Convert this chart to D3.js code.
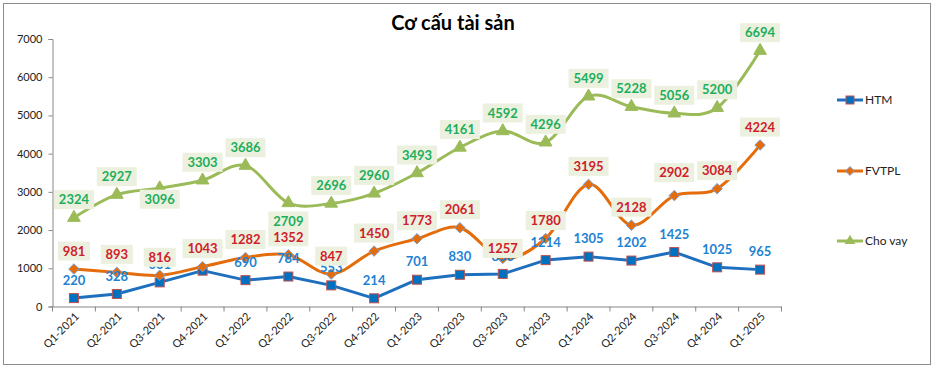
<!DOCTYPE html>
<html>
<head>
<meta charset="utf-8">
<script src="https://cdn.jsdelivr.net/npm/d3@7"></script>
<style>
  html, body { margin: 0; padding: 0; background: #fff; }
  svg { display: block; font-family: Lato, "Open Sans", "DejaVu Sans", sans-serif; }
</style>
</head>
<body>
<svg id="chart" width="936" height="369"></svg>
<script>
const categories = ["Q1-2021","Q2-2021","Q3-2021","Q4-2021","Q1-2022","Q2-2022","Q3-2022","Q4-2022",
  "Q1-2023","Q2-2023","Q3-2023","Q4-2023","Q1-2024","Q2-2024","Q3-2024","Q4-2024","Q1-2025"];
const htm    = [220, 328, 631, 938, 690, 784, 553, 214, 701, 830, 853, 1214, 1305, 1202, 1425, 1025, 965];
const fvtpl  = [981, 893, 816, 1043, 1282, 1352, 847, 1450, 1773, 2061, 1257, 1780, 3195, 2128, 2902, 3084, 4224];
const choVay = [2324, 2927, 3096, 3303, 3686, 2709, 2696, 2960, 3493, 4161, 4592, 4296, 5499, 5228, 5056, 5200, 6694];
const yTicks = [0, 1000, 2000, 3000, 4000, 5000, 6000, 7000];
const seriesNames = ["HTM", "FVTPL", "Cho vay"];

// label placement (layout only): vertical offset of each data label from its point
const htmLabelDy    = Array(17).fill(-18);
const fvtplLabelDy  = [-18,-18,-18,-18,-18,-18,-18,-18,-18,-18,-10,-18,-18,-18,-23,-18,-18];
const choVayLabelDy = [-18,-18,11,-18,-18,18,-18,-18,-18,-18,-18,-18,-18,-18,-18,-18,-18];

const svg = d3.select("#chart");

// border
svg.append("rect").attr("x", 3.5).attr("y", 3.5).attr("width", 927).attr("height", 361)
  .attr("fill", "#fff").attr("stroke", "#8c8c8c").attr("stroke-width", 1);

// title
svg.append("text").attr("x", 453).attr("y", 30).attr("text-anchor", "middle")
  .attr("font-size", 20).attr("font-weight", "bold").attr("fill", "#000").text("Cơ cấu tài sản");

const x = d3.scaleBand().domain(categories).range([52.5, 781.5]).paddingInner(0).paddingOuter(0);
const y = d3.scaleLinear().domain([0, 7000]).range([306.5, 39]);
const cx = c => x(c) + x.bandwidth() / 2;

// y axis
const yAxis = d3.axisLeft(y).tickValues(yTicks).tickSize(4).tickPadding(6).tickFormat(d3.format("d"));
const gy = svg.append("g").attr("transform", "translate(52.5,0)").call(yAxis);
gy.select(".domain").attr("stroke", "#868686");
gy.selectAll(".tick line").attr("stroke", "#868686");
gy.selectAll(".tick text").attr("font-size", 11).attr("fill", "#222").attr("font-family", "Lato, sans-serif");

// x axis
const xAxis = d3.axisBottom(x).tickSize(0).tickFormat(d => d);
const gx = svg.append("g").attr("transform", "translate(0,306.5)").call(xAxis);
gx.select(".domain").attr("stroke", "#868686");
const bounds = categories.map(c => x(c)).concat([x(categories[categories.length - 1]) + x.bandwidth()]);
gx.selectAll(".btick").data(bounds).enter().append("line")
  .attr("x1", d => d).attr("x2", d => d).attr("y1", 0).attr("y2", 5).attr("stroke", "#868686");
gx.selectAll(".tick text")
  .attr("font-size", 11).attr("fill", "#222").attr("font-family", "Lato, sans-serif")
  .attr("text-anchor", "end")
  .attr("transform", "translate(3,8) rotate(-45)")
  .attr("dy", "0.35em").attr("y", 0);

const colors = { htm: "#1F6FBF", fvtpl: "#E46C0A", cho: "#9BBB59" };

// lines
const lineStraight = d3.line().x((d, i) => cx(categories[i])).y(d => y(d));
const lineSmooth = d3.line().x((d, i) => cx(categories[i])).y(d => y(d)).curve(d3.curveCardinal.tension(0));

svg.append("path").datum(htm).attr("d", lineStraight).attr("fill", "none")
  .attr("stroke", colors.htm).attr("stroke-width", 3).attr("stroke-linejoin", "round");
svg.selectAll(".sq").data(htm).enter().append("rect")
  .attr("x", (d, i) => cx(categories[i]) - 4.5).attr("y", d => y(d) - 4.5)
  .attr("width", 9).attr("height", 9).attr("fill", "#0070C0").attr("stroke", "#C0504D").attr("stroke-width", 1);

svg.append("path").datum(fvtpl).attr("d", lineSmooth).attr("fill", "none")
  .attr("stroke", colors.fvtpl).attr("stroke-width", 3);
const diamond = d3.symbol().type(d3.symbolDiamond2).size(70);
svg.selectAll(".dm").data(fvtpl).enter().append("path")
  .attr("d", diamond).attr("transform", (d, i) => `translate(${cx(categories[i])},${y(d)})`)
  .attr("fill", colors.fvtpl).attr("stroke", "#7F9FCF").attr("stroke-width", 1);

svg.append("path").datum(choVay).attr("d", lineSmooth).attr("fill", "none")
  .attr("stroke", colors.cho).attr("stroke-width", 3);
const tri = d3.symbol().type(d3.symbolTriangle).size(70);
svg.selectAll(".tr").data(choVay).enter().append("path")
  .attr("d", tri).attr("transform", (d, i) => `translate(${cx(categories[i])},${y(d)})`)
  .attr("fill", colors.cho).attr("stroke", colors.cho).attr("stroke-width", 1);

// labels
function addLabels(data, color, boxed, dyArr) {
  const g = svg.append("g");
  data.forEach((v, i) => {
    const px = cx(categories[i]);
    const py = y(v) + dyArr[i];
    const txt = String(v);
    const w = txt.length * 8 + 8;
    if (boxed) {
      g.append("rect").attr("x", px - w / 2).attr("y", py - 9.5).attr("width", w).attr("height", 19)
        .attr("fill", "#EBF1DE");
    }
    g.append("text").attr("x", px).attr("y", py).attr("dy", "0.36em").attr("text-anchor", "middle")
      .attr("font-size", 13).attr("font-weight", "bold").attr("fill", color).text(txt);
  });
}
addLabels(htm, "#1E82D2", false, htmLabelDy);
addLabels(fvtpl, "#D0202A", true, fvtplLabelDy);
addLabels(choVay, "#1DAE5B", true, choVayLabelDy);

// legend
const legendItems = [
  { name: seriesNames[0], y: 100, color: colors.htm, marker: "sq" },
  { name: seriesNames[1], y: 171, color: colors.fvtpl, marker: "dm" },
  { name: seriesNames[2], y: 241, color: colors.cho, marker: "tr" }
];
legendItems.forEach(it => {
  svg.append("line").attr("x1", 837).attr("x2", 863).attr("y1", it.y).attr("y2", it.y)
    .attr("stroke", it.color).attr("stroke-width", 3);
  if (it.marker === "sq") {
    svg.append("rect").attr("x", 846).attr("y", it.y - 4).attr("width", 8).attr("height", 8)
      .attr("fill", "#0070C0").attr("stroke", "#C0504D");
  } else if (it.marker === "dm") {
    svg.append("path").attr("d", d3.symbol().type(d3.symbolDiamond2).size(50)())
      .attr("transform", `translate(850,${it.y})`).attr("fill", colors.fvtpl).attr("stroke", "#7F9FCF");
  } else {
    svg.append("path").attr("d", d3.symbol().type(d3.symbolTriangle).size(50)())
      .attr("transform", `translate(850,${it.y})`).attr("fill", colors.cho);
  }
  svg.append("text").attr("x", 865).attr("y", it.y).attr("dy", "0.35em")
    .attr("font-size", 12).attr("fill", "#222").text(it.name);
});
</script>
</body>
</html>
